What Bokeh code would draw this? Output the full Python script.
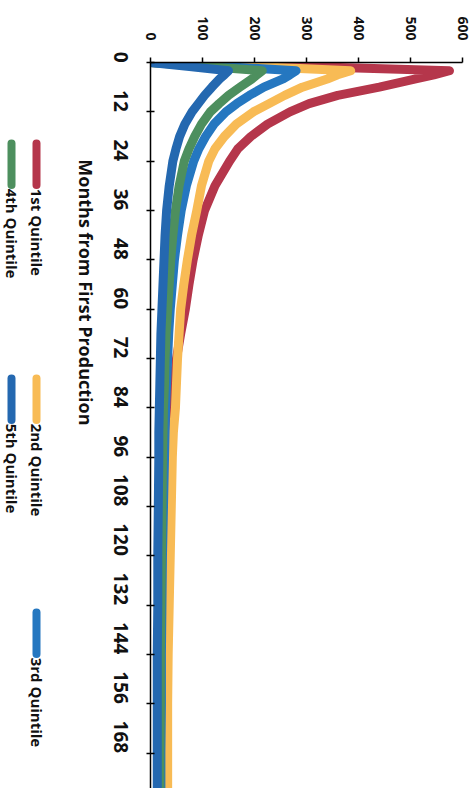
import math
from bokeh.plotting import figure
from bokeh.layouts import row
from bokeh.models import Range1d, FixedTicker, LinearAxis
from bokeh.core.properties import value
from bokeh.embed import file_html
from bokeh.resources import INLINE

# ---- data ----
months = [0, 1, 2, 3, 4, 6, 8, 10, 12, 15, 18, 21, 24, 30, 36, 42, 48, 54, 60, 66,
          72, 78, 84, 90, 96, 108, 120, 132, 144, 156, 168, 177]
q1 = [0, 300, 575, 545, 510, 440, 360, 305, 268, 225, 193, 168, 152, 124, 104, 92, 82, 74, 67, 58,
      50, 45, 42, 40, 37, 34, 32, 31, 30, 29, 29, 29]
q2 = [0, 200, 385, 360, 340, 292, 258, 228, 198, 165, 142, 124, 112, 98, 89, 79, 71, 64, 58, 55,
      52, 50, 48, 44, 42, 40, 38, 36, 34, 33, 33, 33]
q3 = [0, 140, 280, 268, 255, 218, 190, 166, 145, 122, 106, 93, 83, 69, 59, 52, 46, 42, 38, 35,
      33, 31, 29, 28, 27, 25, 23, 22, 21, 21, 20, 20]
q4 = [0, 108, 215, 205, 195, 172, 150, 132, 115, 98, 85, 74, 65, 55, 48, 43, 39, 36, 33, 30,
      28, 27, 25, 24, 23, 22, 21, 20, 19, 19, 18, 18]
q5 = [0, 75, 150, 142, 133, 118, 104, 92, 80, 66, 56, 49, 43, 36, 31, 28, 26, 24, 22, 20,
      19, 18, 17, 16, 16, 15, 14, 14, 13, 13, 13, 13]

series_names = ["1st Quintile", "2nd Quintile", "3rd Quintile", "4th Quintile", "5th Quintile"]
series_values = [q1, q2, q3, q4, q5]
series_colors = ["#b5364b", "#f8bb55", "#2577c0", "#4d8f5e", "#2468b0"]
legend_rows = [0, 0, 0, 1, 1]
legend_cols = [0, 1, 2, 0, 1]

month_ticks = [0, 12, 24, 36, 48, 60, 72, 84, 96, 108, 120, 132, 144, 156, 168]
value_ticks = [0, 100, 200, 300, 400, 500, 600]
x_title = "Months from First Production"

# ---- layout ----
H = 788
LW = 58
MW = 415
FONT = "Open Sans"
ANG = -math.pi / 2

p = figure(width=MW, height=H, x_range=Range1d(0, 600), y_range=Range1d(176.6, 0),
           x_axis_location="above", output_backend="svg", toolbar_location=None,
           min_border_left=85, min_border_right=11, min_border_top=62, min_border_bottom=0)
p.outline_line_color = None
p.grid.visible = False
p.background_fill_color = "white"
p.border_fill_color = "white"

# values run across (x), months run down (y): the chart is turned a quarter turn
for name, vals, col in zip(series_names, series_values, series_colors):
    p.line(vals, months, line_color=col, line_width=9, line_join="round", line_cap="round")

xa = p.xaxis[0]
xa.ticker = FixedTicker(ticks=value_ticks)
xa.major_label_orientation = ANG
xa.major_tick_out = 5
xa.major_tick_in = 0
xa.minor_tick_out = 0
xa.minor_tick_in = 0
xa.major_label_standoff = 17
xa.axis_line_width = 1.5
xa.axis_line_color = "black"
xa.major_tick_line_color = "black"
xa.major_tick_line_width = 1.5
xa.major_label_text_font = FONT
xa.major_label_text_font_style = "bold"
xa.major_label_text_font_size = "14px"
xa.major_label_text_color = "#111111"

ya = p.yaxis[0]
ya.ticker = FixedTicker(ticks=month_ticks)
ya.major_label_orientation = ANG
ya.major_tick_out = 4
ya.major_tick_in = 4
ya.minor_tick_out = 0
ya.minor_tick_in = 0
ya.major_label_standoff = 26
ya.axis_line_width = 1.5
ya.axis_line_color = "black"
ya.major_tick_line_color = "black"
ya.major_tick_line_width = 1.5
ya.major_label_text_font = FONT
ya.major_label_text_font_style = "bold"
ya.major_label_text_font_size = "19px"
ya.major_label_text_color = "#111111"

if "axis_label_orientation" in LinearAxis.properties():
    ya.axis_label = x_title
    ya.axis_label_orientation = ANG
    ya.axis_label_standoff = 18
    ya.axis_label_text_font = FONT
    ya.axis_label_text_font_style = "bold"
    ya.axis_label_text_font_size = "18px"
    ya.axis_label_text_color = "#111111"

# ---- legend panel (rotated, drawn as its own small figure) ----
lg = figure(width=LW, height=H, x_range=Range1d(0, LW), y_range=Range1d(H, 0),
            output_backend="svg", toolbar_location=None,
            x_axis_location=None, y_axis_location=None,
            min_border_left=0, min_border_right=0, min_border_top=0, min_border_bottom=0)
lg.outline_line_color = None
lg.grid.visible = False

row_x = [36, 11]
col_y = [88, 343, 597]
sample_len = 45
for name, col, r, c in zip(series_names, series_colors, legend_rows, legend_cols):
    x0 = row_x[r]
    y0 = col_y[c]
    lg.segment(x0=[x0], y0=[y0], x1=[x0], y1=[y0 + sample_len], line_color=col,
               line_width=8, line_cap="round")
    lg.text(x=[x0], y=[y0 + sample_len + 4], text=[name], angle=ANG,
            text_font=value(FONT), text_font_style="bold", text_font_size="15px",
            text_color="#111111", text_align="left", text_baseline="middle")

layout = row(lg, p)
open("out.html", "w").write(file_html(layout, INLINE))
